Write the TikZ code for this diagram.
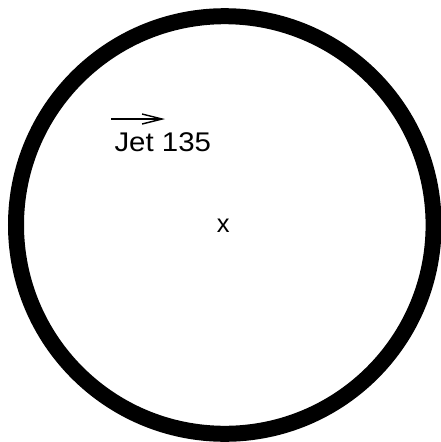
\documentclass[tikz,border=0pt]{standalone}
\usepackage{fontspec}
\setmainfont{Liberation Sans}
\usetikzlibrary{arrows.meta}
\begin{document}
\begin{tikzpicture}[x=1pt,y=-1pt,
  ring/.style={draw=black,line width=16pt},
  jetarrow/.style={draw=black,line width=1.8pt,-{Straight Barb[length=20pt,width=10pt,line width=1.4pt]}},
  lbl/.style={inner sep=0pt,outer sep=0pt,text=black}]
\useasboundingbox[fill=white] (0,0) rectangle (440,442);
\coordinate (c) at (224.8,225);
\draw[ring] (c) circle[radius=208.8];
\coordinate (a0) at (111,119);
\coordinate (a1) at (165,119);
\draw[jetarrow] (a0) -- (a1);
\node[lbl,anchor=base west,font=\fontsize{27}{30}\selectfont,xscale=1.09] (jet) at (114.5,151.7) {Jet 135};
\node[lbl,anchor=base,font=\fontsize{25.5}{28}\selectfont] (x) at (223.3,232.7) {x};
\end{tikzpicture}
\end{document}
